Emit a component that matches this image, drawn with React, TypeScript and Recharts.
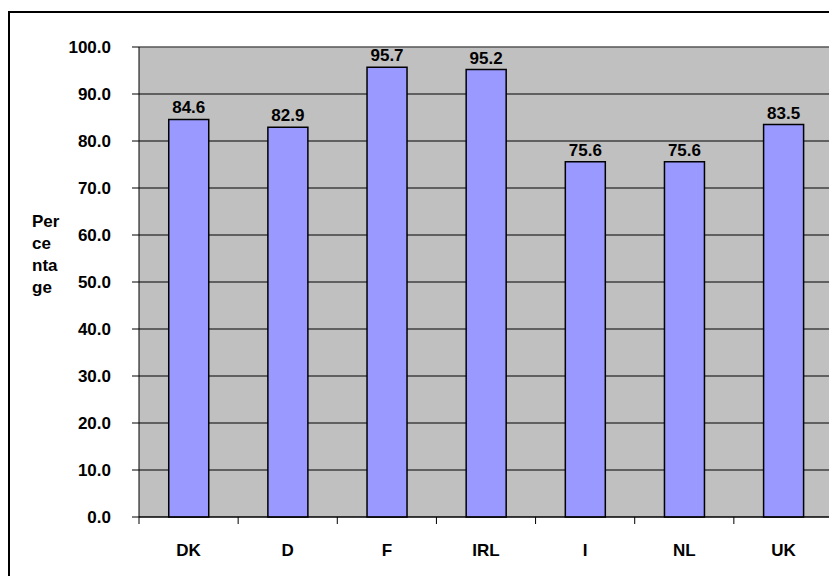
import React from 'react';
import { BarChart, Bar, XAxis, YAxis, CartesianGrid, LabelList, Label } from 'recharts';

const categories = ['DK', 'D', 'F', 'IRL', 'I', 'NL', 'UK'];
const percentages = [84.6, 82.9, 95.7, 95.2, 75.6, 75.6, 83.5];
const yTicks = [0, 10, 20, 30, 40, 50, 60, 70, 80, 90, 100];
const axisTitleLines = ['Per', 'ce', 'nta', 'ge'];

const data = categories.map((name, i) => ({ name, value: percentages[i] }));

const FONT = '"Liberation Sans", Arial, sans-serif';
const FS = 17;

const AxisTitle = (props: any) => {
  const vb = props.viewBox || {};
  const cx = vb.x + 24;
  const cy = vb.y + vb.height / 2 - 55;
  return (
    <text x={cx} y={cy} fontFamily={FONT} fontSize={FS} fontWeight="bold" fill="#000">
      {axisTitleLines.map((t, i) => (
        <tspan key={i} x={cx} dy={i === 0 ? 0 : 22}>
          {t}
        </tspan>
      ))}
    </text>
  );
};

// category tick: label at band centre, tick marks at band boundaries
const CatTick = (props: any) => {
  const { x, y, payload, index, width, visibleTicksCount } = props;
  const count = visibleTicksCount || categories.length;
  const band = Number(width) / count;
  const left = x - band / 2;
  const right = x + band / 2;
  return (
    <g>
      {Number.isFinite(band) && <line x1={left} y1={y} x2={left} y2={y + 7} stroke="#000" strokeWidth={1} />}
      {Number.isFinite(band) && index === count - 1 && (
        <line x1={right} y1={y} x2={right} y2={y + 7} stroke="#000" strokeWidth={1} />
      )}
      <text x={x} y={y + 39} textAnchor="middle" fontFamily={FONT} fontSize={FS} fontWeight="bold" fill="#000">
        {payload.value}
      </text>
    </g>
  );
};

const NumTick = (props: any) => {
  const { x, y, payload } = props;
  return (
    <text x={x} y={y} dy={6} textAnchor="end" fontFamily={FONT} fontSize={FS} fontWeight="bold" fill="#000">
      {Number(payload.value).toFixed(1)}
    </text>
  );
};

const ValueLabel = (props: any) => {
  const { x, y, width, value } = props;
  return (
    <text x={x + width / 2} y={y - 6} textAnchor="middle" fontFamily={FONT} fontSize={FS} fontWeight="bold" fill="#000">
      {Number(value).toFixed(1)}
    </text>
  );
};

export default function App() {
  return (
    <div style={{ position: 'relative', width: 829, height: 568, overflow: 'hidden', background: '#fff' }}>
      <div
        style={{
          position: 'absolute',
          left: 0,
          top: 3,
          width: 900,
          height: 700,
          border: '2px solid #000',
          boxSizing: 'border-box',
        }}
      />
      <div style={{ position: 'absolute', left: 0, top: 0 }}>
        <BarChart
          width={829}
          height={568}
          data={data}
          margin={{ top: 38, right: 3, bottom: 0, left: 0 }}
          barCategoryGap="30%"
        >
          <CartesianGrid vertical={false} stroke="#000" fill="#C0C0C0" />
          <XAxis
            dataKey="name"
            interval={0}
            height={59}
            tickLine={false}
            tickSize={0}
            tickMargin={0}
            axisLine={{ stroke: '#000' }}
            tick={<CatTick />}
          />
          <XAxis
            xAxisId="top"
            orientation="top"
            dataKey="name"
            height={1}
            tick={false}
            tickLine={false}
            axisLine={{ stroke: '#808080' }}
          />
          <YAxis
            width={131}
            domain={[0, 100]}
            ticks={yTicks}
            interval={0}
            tickSize={7}
            tickMargin={21}
            stroke="#000"
            tick={<NumTick />}
          >
            <Label content={<AxisTitle />} />
          </YAxis>
          <YAxis
            yAxisId="right"
            orientation="right"
            width={1}
            domain={[0, 100]}
            tick={false}
            tickLine={false}
            axisLine={{ stroke: '#808080' }}
          />
          <Bar dataKey="value" fill="#9999FF" stroke="#000" strokeWidth={1.5} isAnimationActive={false}>
            <LabelList dataKey="value" content={<ValueLabel />} />
          </Bar>
        </BarChart>
      </div>
    </div>
  );
}
